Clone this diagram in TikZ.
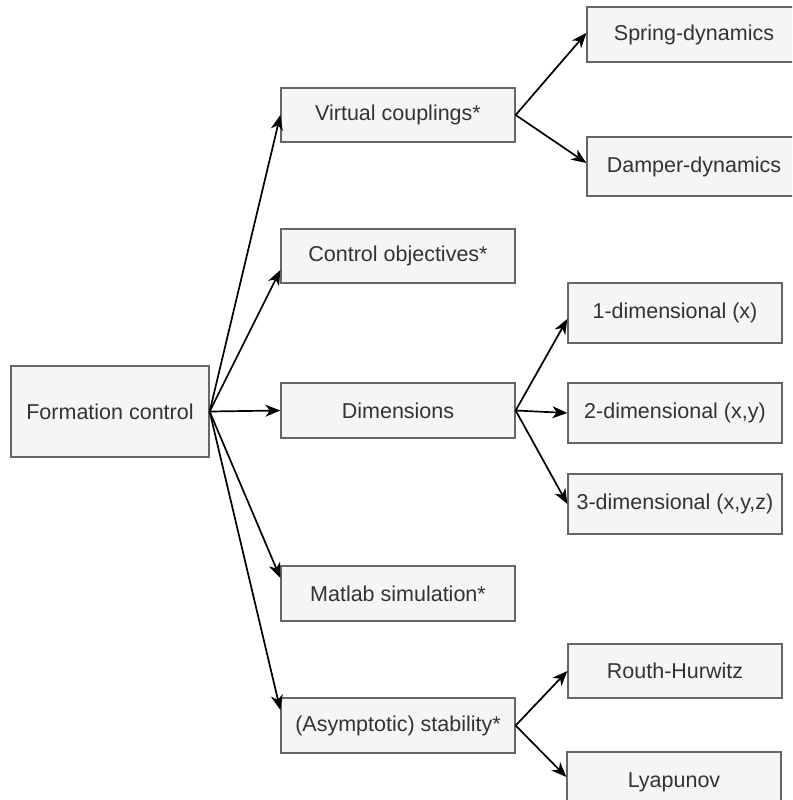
\documentclass[tikz,border=0pt]{standalone}
\usepackage{fontspec}
\setmainfont{Liberation Sans}
\usetikzlibrary{arrows.meta}
\definecolor{boxfill}{HTML}{F5F5F5}
\definecolor{boxline}{HTML}{666666}
\definecolor{boxtext}{HTML}{333333}
\tikzset{
  box/.style={draw=boxline, fill=boxfill, line width=1.3pt, text=boxtext,
    font=\fontsize{21.5}{24}\selectfont, inner sep=0pt, anchor=center},
  conn/.style={line width=1.7pt, draw=black, -{Stealth[length=15pt,width=12pt,inset=4.5pt]}}
}
\begin{document}
\begin{tikzpicture}[x=1pt,y=-1pt]
\clip (0,0) rectangle (792,800);
\fill[white] (0,0) rectangle (792,800);
\node[box, minimum width=198pt, minimum height=91pt] (fc) at (110,411.5) {Formation control};
\node[box, minimum width=234pt, minimum height=54pt] (vc) at (398,115) {Virtual couplings*};
\node[box, minimum width=234pt, minimum height=54pt] (co) at (398,256) {Control objectives*};
\node[box, minimum width=234pt, minimum height=55pt] (dim) at (398,410.5) {Dimensions};
\node[box, minimum width=234pt, minimum height=55pt] (mat) at (398,593.5) {Matlab simulation*};
\node[box, minimum width=234pt, minimum height=55pt] (asy) at (398,725.5) {(Asymptotic) stability*};
\node[box, minimum width=214pt, minimum height=55pt] (spr) at (694,34.5) {Spring-dynamics};
\node[box, minimum width=214pt, minimum height=59pt] (dmp) at (694,166.5) {Damper-dynamics};
\node[box, minimum width=214pt, minimum height=60pt] (d1) at (675,313) {1-dimensional (x)};
\node[box, minimum width=214pt, minimum height=60pt] (d2) at (675,413) {2-dimensional (x,y)};
\node[box, minimum width=214pt, minimum height=60pt] (d3) at (675,504) {3-dimensional (x,y,z)};
\node[box, minimum width=214pt, minimum height=54pt] (rh) at (675,671) {Routh-Hurwitz};
\node[box, minimum width=214pt, minimum height=60pt] (ly) at (674,782) {Lyapunov};

\draw[conn] (fc.east) -- (vc.west);
\draw[conn] (fc.east) -- ([yshift=-14pt]co.west);
\draw[conn] (fc.east) -- (dim.west);
\draw[conn] (fc.east) -- ([yshift=15.5pt]mat.west);
\draw[conn] (fc.east) -- ([yshift=15.5pt]asy.west);

\draw[conn] (vc.east) -- ([yshift=1.5pt]spr.west);
\draw[conn] (vc.east) -- ([yshift=3.5pt]dmp.west);

\draw[conn] (dim.east) -- ([yshift=-6pt]d1.west);
\draw[conn] (dim.east) -- (d2.west);
\draw[conn] (dim.east) -- (d3.west);

\draw[conn] (asy.east) -- (rh.west);
\draw[conn] (asy.east) -- ([yshift=5pt]ly.west);
\end{tikzpicture}
\end{document}
